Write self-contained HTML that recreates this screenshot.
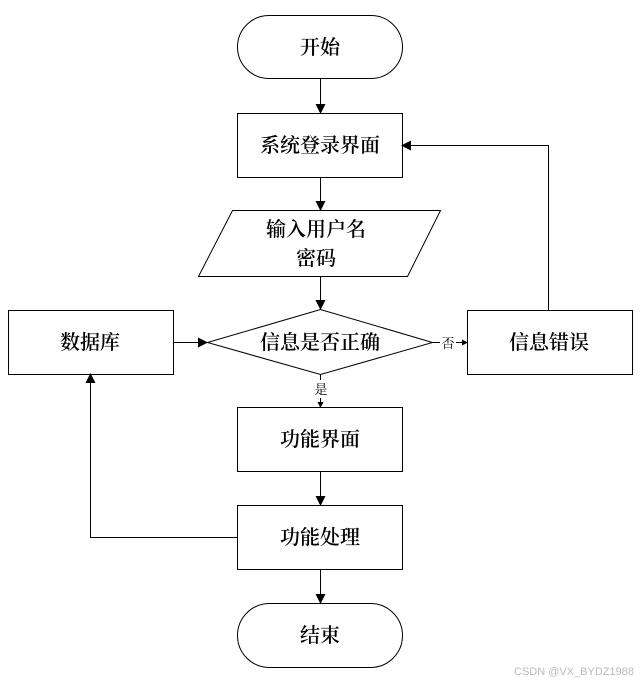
<!DOCTYPE html>
<html><head><meta charset="utf-8"><style>body{margin:0;background:#fff}</style></head><body>
<svg width="644" height="682" xmlns="http://www.w3.org/2000/svg" style="display:block">
<defs><marker id="a" markerWidth="10" markerHeight="10" refX="9" refY="5" orient="auto" markerUnits="userSpaceOnUse"><path d="M0,0 L10,5 L0,10 Z" fill="#000"/></marker>
<marker id="s" markerWidth="6" markerHeight="6" refX="5" refY="3" orient="auto" markerUnits="userSpaceOnUse"><path d="M0,0 L6,3 L0,6 Z" fill="#000"/></marker></defs>
<g fill="#fff" stroke="#000" stroke-width="1">
<rect x="237.5" y="15.5" width="165" height="63" rx="31.5"/>
<rect x="237.5" y="113.5" width="165" height="64"/>
<polygon points="232.5,210.5 440.5,210.5 407.5,276.5 198.5,276.5"/>
<polygon points="207.5,342.5 320.5,309.5 432.5,342.5 320.5,374.5"/>
<rect x="8.5" y="310.5" width="165" height="64"/>
<rect x="467.5" y="310.5" width="165" height="64"/>
<rect x="237.5" y="407.5" width="165" height="64"/>
<rect x="237.5" y="505.5" width="165" height="64"/>
<rect x="237.5" y="603.5" width="165" height="64" rx="32"/>
</g>
<g stroke="#000" fill="none" stroke-width="1">
<line x1="320.5" y1="78" x2="320.5" y2="113" marker-end="url(#a)"/>
<line x1="320.5" y1="177" x2="320.5" y2="210" marker-end="url(#a)"/>
<line x1="320.5" y1="276" x2="320.5" y2="309" marker-end="url(#a)"/>
<line x1="173" y1="342.5" x2="207" y2="342.5" marker-end="url(#a)"/>
<line x1="432" y1="342.5" x2="440" y2="342.5"/>
<line x1="456" y1="342.5" x2="467" y2="342.5" marker-end="url(#s)"/>
<polyline points="548.5,310 548.5,145.5 402,145.5" marker-end="url(#a)"/>
<line x1="320.5" y1="374" x2="320.5" y2="380"/>
<line x1="320.5" y1="398" x2="320.5" y2="407" marker-end="url(#s)"/>
<line x1="320.5" y1="471" x2="320.5" y2="505" marker-end="url(#a)"/>
<polyline points="237,537.5 90.5,537.5 90.5,374" marker-end="url(#a)"/>
<line x1="320.5" y1="569" x2="320.5" y2="603" marker-end="url(#a)"/>
</g>
<g font-family="'Liberation Serif','Noto Serif CJK SC',serif" font-size="20" font-weight="600" text-anchor="middle" fill="#000">
<text x="320" y="54">开始</text>
<text x="320" y="152">系统登录界面</text>
<text x="316" y="236">输入用户名</text>
<text x="316" y="265">密码</text>
<text x="320" y="349">信息是否正确</text>
<text x="90" y="349">数据库</text>
<text x="549" y="349">信息错误</text>
<text x="320" y="446">功能界面</text>
<text x="320" y="544">功能处理</text>
<text x="320" y="642">结束</text>
<text x="448" y="348" font-size="13" font-weight="400">否</text>
<text x="321" y="394" font-size="13" font-weight="400">是</text>
</g>
<text x="634" y="675" font-family="'Liberation Sans',sans-serif" font-size="11" fill="#bbb" text-anchor="end">CSDN @VX_BYDZ1988</text>
</svg>
</body></html>
